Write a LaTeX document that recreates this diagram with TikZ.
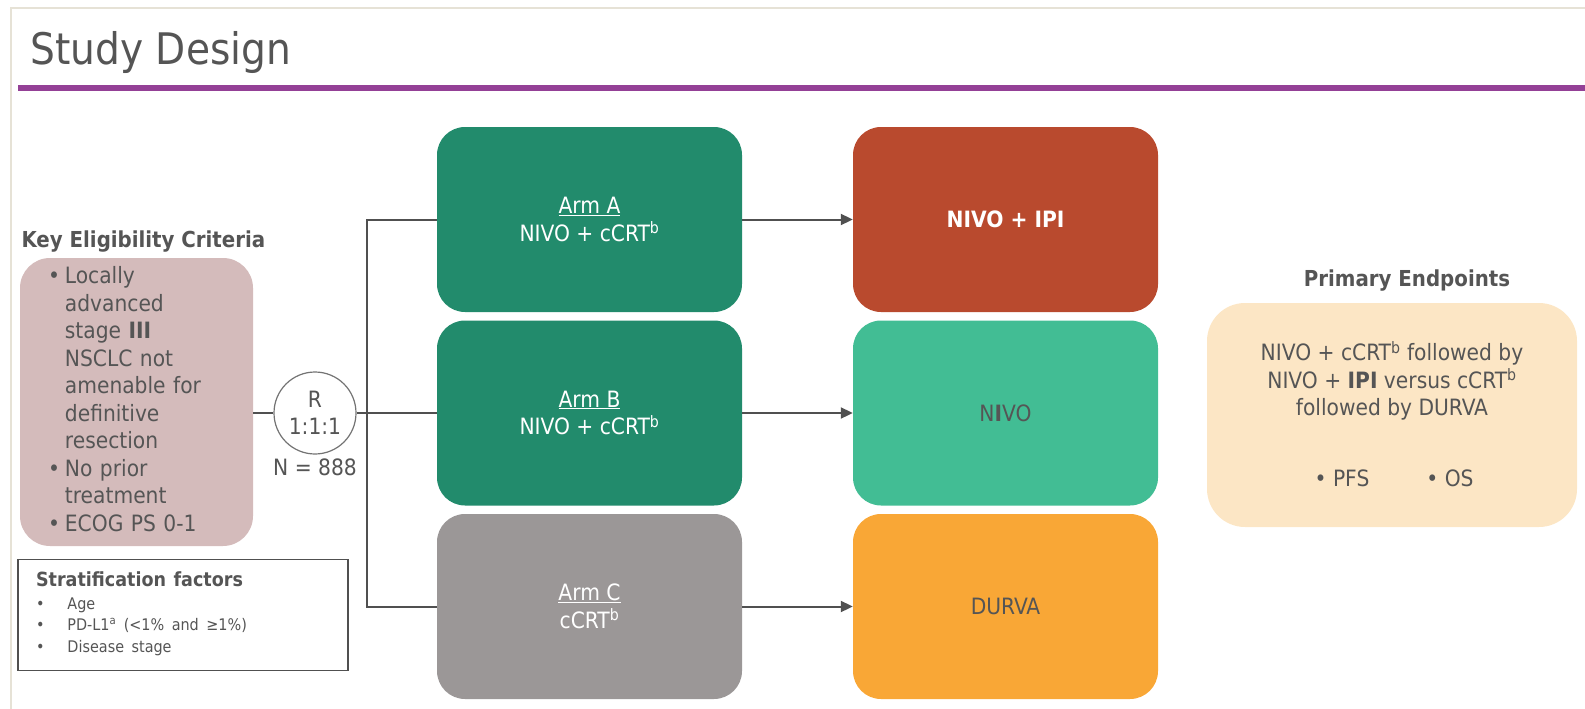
\documentclass[tikz,border=0pt]{standalone}
\usepackage{fontspec}
\setmainfont{DejaVu Sans Condensed}
\usepackage{xcolor}
\usepackage{tikz}
\usetikzlibrary{arrows.meta, positioning}
\definecolor{textgrey}{RGB}{85,85,85}
\definecolor{linegrey}{RGB}{80,80,80}
\definecolor{framebeige}{RGB}{230,226,214}
\definecolor{titlepurple}{RGB}{148,64,150}
\definecolor{eligpink}{RGB}{212,187,187}
\definecolor{armgreen}{RGB}{34,139,108}
\definecolor{armgrey}{RGB}{155,151,151}
\definecolor{ipirust}{RGB}{185,74,46}
\definecolor{nivoteal}{RGB}{66,189,148}
\definecolor{durvaorange}{RGB}{249,167,54}
\definecolor{endcream}{RGB}{252,230,197}
\newcommand{\studyheadfont}{\fontsize{43.5}{50}\selectfont}
\newcommand{\studyboxfont}{\fontsize{22.5}{27.5}\selectfont}
\newcommand{\studystratfont}{\fontsize{16}{21.5}\selectfont}
\tikzset{
    study/.style={font=\studyboxfont, text=textgrey},
    arm box/.style={rounded corners=28pt, align=center, text=white,
        minimum width=305pt, minimum height=185pt},
    outcome box/.style={rounded corners=28pt, align=center,
        minimum width=305pt, minimum height=185pt},
    study link/.style={draw=linegrey, line width=2pt},
    study arrow/.style={-{Triangle[length=12pt, width=11pt]}, draw=linegrey,
        line width=2pt},
}

\begin{document}
\begin{tikzpicture}[study, x=1pt, y=-1pt]
    \useasboundingbox (0,0) rectangle (1585,709);
    \draw[framebeige, line width=2pt] (11,709) -- (11,8) -- (1585,8);
    \fill[titlepurple] (18,85) rectangle (1585,91);
    \node[anchor=base west, font=\studyheadfont] (title) at (27,65) {Study Design};

    \node[anchor=base west, font=\fontsize{22}{27}\selectfont\bfseries] (eligtitle)
        at (18,247) {Key Eligibility Criteria};
    \node[fill=eligpink, rounded corners=30pt, minimum width=233pt,
        minimum height=288pt, text width=177pt, align=left] (elig) at (136.5,402)
        {\begin{tabular}{@{}l@{\hspace{5pt}}l@{}}
            \textbullet & Locally\\
             & advanced\\
             & stage \textbf{III}\\
             & NSCLC not\\
             & amenable for\\
             & definitive\\
             & resection\\
            \textbullet & No prior\\
             & treatment\\
            \textbullet & ECOG PS 0-1
        \end{tabular}};

    \node[draw=linegrey, line width=1.5pt, minimum width=330pt, minimum height=111pt,
        text width=294pt, align=left] (strat) at (183,615)
        {{\fontsize{19.5}{24}\selectfont\bfseries Stratification factors}\\[7pt]
        \studystratfont
        \begin{tabular}{@{}l@{\hspace{23pt}}l@{}}
            \textbullet & Age\\
            \textbullet & PD-L1\textsuperscript{a} (<1\% and ≥1\%)\\
            \textbullet & Disease stage
        \end{tabular}};

    \node[circle, draw=linegrey!80, line width=1.2pt, minimum size=82pt,
        inner sep=0pt, align=center] (rand) at (315,413) {R\\1:1:1};
    \node[below=1pt of rand] (total) {N = 888};

    \node[arm box, fill=armgreen] (armA) at (589.5,219.5)
        {\underline{Arm A}\\NIVO + cCRT\textsuperscript{b}};
    \node[arm box, fill=armgreen] (armB) at (589.5,413)
        {\underline{Arm B}\\NIVO + cCRT\textsuperscript{b}};
    \node[arm box, fill=armgrey] (armC) at (589.5,606.5)
        {\underline{Arm C}\\cCRT\textsuperscript{b}};

    \node[outcome box, fill=ipirust, text=white, font=\studyboxfont\bfseries]
        (ipi) at (1005.5,219.5) {NIVO + IPI};
    \node[outcome box, fill=nivoteal] (nivo) at (1005.5,413) {N\textbf{I}VO};
    \node[outcome box, fill=durvaorange] (durva) at (1005.5,606.5) {DURVA};

    \coordinate (split) at (367,413);
    \draw[study link] (elig.east |- rand.west) -- (rand.west);
    \draw[study link] (rand.east) -- (split);
    \draw[study link] (armA.west) -| (split) |- (armC.west);
    \draw[study link] (split) -- (armB.west);
    \draw[study arrow] (armA.east) -- (ipi.west);
    \draw[study arrow] (armB.east) -- (nivo.west);
    \draw[study arrow] (armC.east) -- (durva.west);

    \node[font=\fontsize{22}{27}\selectfont\bfseries] (endtitle) at (1407,281)
        {Primary Endpoints};
    \node[fill=endcream, rounded corners=38pt, minimum width=370pt,
        minimum height=224pt] (endbox) at (1392,415) {};
    \node[align=center] (endtext) at (1392,381)
        {NIVO + cCRT\textsuperscript{b} followed by\\
        NIVO + \textbf{IPI} versus cCRT\textsuperscript{b}\\
        followed by DURVA};
    \node (pfs) at (1342,478) {\textbullet\ PFS};
    \node (os) at (1450,478) {\textbullet\ OS};
\end{tikzpicture}
\end{document}
